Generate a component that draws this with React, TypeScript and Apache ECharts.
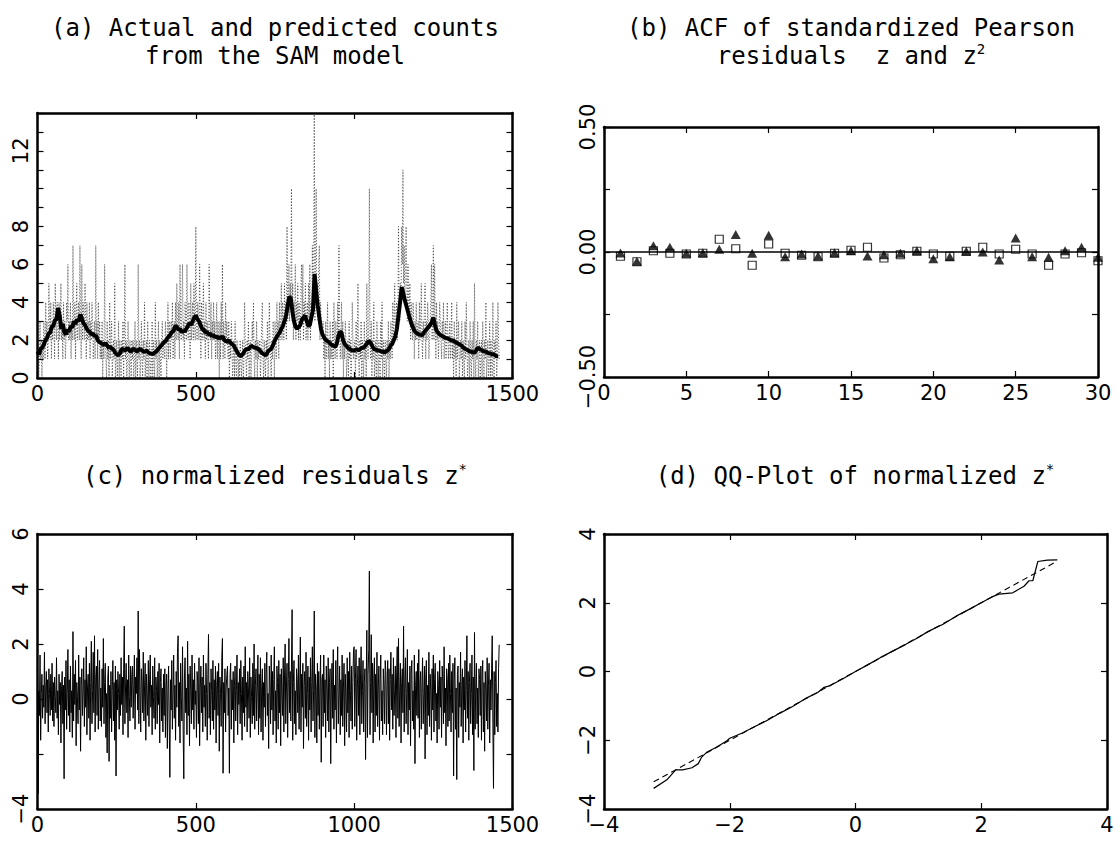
import React, { useEffect, useRef } from "react";
import * as echarts from "echarts";

// ---------- (a) counts and predicted counts ----------
const countStep = 2; // days between listed count values
const counts = [
  1, 2, 0, 1, 3, 1, 2, 0, 2, 1, 3, 2, 1, 4, 2, 3, 1, 2, 5, 3, 2, 4, 1, 3, 2, 4, 3, 1, 5, 3, 2, 4, 3, 1, 4, 2, 3, 5, 2, 3, 1, 4, 2, 3, 1, 2, 4, 3, 6, 2,
  3, 2, 4, 1, 3, 2, 7, 3, 2, 4, 1, 3, 5, 2, 3, 4, 2, 7, 3, 1, 6, 2, 4, 3, 2, 5, 3, 1, 4, 2, 3, 2, 4, 1, 3, 2, 4, 3, 1, 2, 3, 1, 7, 2, 3, 1, 4, 2, 3, 1,
  2, 1, 3, 0, 2, 1, 6, 2, 1, 0, 3, 1, 2, 0, 4, 1, 2, 3, 0, 1, 2, 1, 5, 0, 1, 2, 0, 1, 3, 0, 2, 1, 0, 2, 1, 3, 0, 2, 6, 1, 2, 0, 1, 3, 1, 0, 2, 1, 0, 2,
  1, 2, 0, 1, 3, 0, 2, 1, 0, 6, 1, 2, 0, 1, 3, 1, 0, 2, 1, 4, 0, 1, 2, 0, 3, 1, 0, 2, 1, 0, 1, 3, 0, 2, 1, 0, 4, 1, 2, 0, 1, 3, 0, 2, 1, 0, 2, 3, 1, 2,
  2, 1, 3, 2, 0, 2, 4, 1, 3, 2, 1, 3, 2, 4, 1, 2, 3, 1, 4, 2, 5, 3, 2, 4, 1, 6, 3, 2, 4, 6, 2, 3, 1, 4, 3, 2, 6, 3, 2, 4, 3, 1, 5, 2, 3, 4, 2, 5, 3, 2,
  8, 3, 2, 4, 3, 2, 6, 3, 1, 4, 2, 3, 5, 2, 3, 1, 4, 2, 3, 2, 1, 6, 3, 2, 4, 1, 3, 2, 4, 2, 3, 1, 2, 4, 1, 3, 2, 0, 3, 1, 4, 2, 6, 1, 3, 2, 1, 4, 2, 3,
  2, 1, 3, 0, 2, 1, 3, 2, 0, 1, 2, 0, 3, 1, 0, 2, 1, 0, 1, 0, 2, 1, 0, 1, 2, 0, 1, 4, 2, 1, 0, 2, 1, 3, 0, 1, 2, 0, 1, 3, 2, 4, 1, 0, 2, 1, 3, 0, 2, 1,
  1, 2, 0, 1, 3, 4, 1, 0, 2, 1, 0, 2, 1, 3, 0, 1, 4, 2, 1, 0, 2, 1, 3, 2, 0, 3, 2, 1, 4, 2, 3, 1, 4, 2, 3, 5, 2, 4, 3, 2, 5, 3, 4, 2, 8, 3, 4, 6, 3, 5,
  4, 10, 3, 5, 2, 4, 3, 6, 2, 4, 3, 5, 2, 4, 3, 2, 5, 6, 3, 6, 2, 4, 3, 5, 2, 3, 4, 2, 5, 3, 6, 2, 4, 3, 7, 4, 5, 14, 3, 6, 10, 4, 5, 3, 6, 7, 2, 4, 3, 2,
  2, 3, 1, 2, 0, 3, 1, 2, 4, 1, 2, 0, 3, 1, 2, 1, 3, 0, 4, 2, 1, 3, 2, 1, 4, 2, 7, 3, 1, 2, 4, 1, 3, 0, 2, 1, 3, 2, 0, 1, 2, 0, 3, 1, 2, 0, 1, 4, 2, 1,
  1, 2, 0, 3, 1, 2, 5, 1, 0, 2, 1, 3, 0, 2, 1, 0, 3, 1, 2, 0, 5, 2, 1, 3, 10, 2, 1, 3, 0, 2, 1, 4, 0, 1, 2, 0, 3, 1, 0, 2, 1, 0, 3, 1, 4, 0, 2, 1, 0, 2,
  1, 0, 2, 1, 3, 0, 2, 1, 3, 2, 1, 4, 2, 3, 5, 2, 3, 4, 2, 3, 8, 4, 3, 5, 4, 8, 6, 11, 5, 7, 4, 6, 8, 5, 3, 6, 4, 3, 5, 2, 4, 3, 2, 4, 3, 1, 3, 2, 4, 2,
  2, 3, 1, 4, 2, 3, 5, 2, 1, 3, 2, 4, 5, 1, 3, 2, 4, 3, 1, 2, 3, 4, 6, 2, 3, 7, 2, 6, 3, 1, 4, 2, 3, 1, 2, 4, 3, 2, 1, 3, 2, 4, 1, 2, 3, 1, 2, 4, 2, 1,
  2, 3, 1, 2, 4, 1, 2, 0, 3, 1, 2, 0, 4, 1, 2, 3, 0, 1, 2, 1, 3, 0, 2, 1, 0, 3, 1, 4, 2, 0, 1, 2, 0, 3, 1, 0, 2, 1, 3, 0, 5, 1, 0, 2, 1, 3, 0, 1, 2, 0,
  1, 2, 0, 3, 1, 0, 2, 1, 4, 0, 1, 2, 0, 1, 3, 0, 2, 1, 0, 4, 1, 0, 2, 1, 3, 0, 1, 4, 2, 1,
];
const predStep = 5;
const predicted = [
  1.4, 1.25, 1.55, 1.6, 1.75, 2.0, 2.1, 2.35, 2.4, 2.7,
  2.75, 3.05, 3.1, 3.7, 3.3, 2.6, 2.85, 2.4, 2.3, 2.55,
  2.45, 2.75, 2.65, 3.0, 2.85, 3.1, 3.0, 3.35, 3.15, 2.9,
  2.8, 2.6, 2.5, 2.45, 2.3, 2.35, 2.2, 2.25, 2.0, 1.9,
  1.85, 1.8, 1.75, 1.85, 1.7, 1.6, 1.65, 1.55, 1.5, 1.35,
  1.25, 1.2, 1.3, 1.5, 1.55, 1.45, 1.5, 1.6, 1.45, 1.4,
  1.5, 1.55, 1.45, 1.4, 1.5, 1.55, 1.45, 1.4, 1.4, 1.45,
  1.35, 1.3, 1.3, 1.25, 1.35, 1.4, 1.5, 1.6, 1.7, 1.8,
  1.9, 1.95, 2.1, 2.2, 2.3, 2.45, 2.5, 2.75, 2.7, 2.55,
  2.6, 2.4, 2.5, 2.45, 2.6, 2.75, 2.9, 2.8, 3.0, 3.2,
  3.3, 3.1, 3.0, 2.8, 2.6, 2.55, 2.4, 2.45, 2.3, 2.35,
  2.2, 2.3, 2.15, 2.2, 2.1, 2.15, 2.1, 2.2, 2.0, 1.95,
  1.9, 2.0, 1.85, 1.8, 1.7, 1.55, 1.4, 1.25, 1.15, 1.2,
  1.3, 1.45, 1.55, 1.5, 1.6, 1.7, 1.65, 1.6, 1.6, 1.55,
  1.5, 1.4, 1.3, 1.25, 1.2, 1.3, 1.45, 1.5, 1.6, 1.8,
  2.0, 2.15, 2.3, 2.4, 2.6, 2.75, 3.0, 3.3, 3.8, 4.3,
  4.2, 3.5, 3.0, 2.7, 2.6, 2.7, 2.8, 3.1, 3.2, 3.3,
  3.0, 2.75, 2.8, 3.2, 3.6, 5.5, 4.6, 3.8, 3.2, 2.6,
  2.3, 2.15, 2.0, 1.95, 1.9, 1.8, 1.75, 1.7, 1.65, 1.8,
  2.2, 2.45, 2.4, 2.0, 1.8, 1.7, 1.6, 1.55, 1.5, 1.45,
  1.45, 1.5, 1.5, 1.45, 1.55, 1.6, 1.6, 1.7, 1.8, 1.95,
  1.9, 1.75, 1.6, 1.5, 1.5, 1.45, 1.45, 1.4, 1.4, 1.35,
  1.4, 1.45, 1.55, 1.7, 1.8, 2.0, 2.2, 2.6, 3.3, 4.0,
  4.8, 4.5, 4.1, 3.8, 3.5, 3.2, 2.9, 2.7, 2.5, 2.4,
  2.35, 2.3, 2.3, 2.25, 2.4, 2.5, 2.6, 2.7, 2.8, 2.95,
  3.2, 2.8, 2.5, 2.4, 2.3, 2.25, 2.2, 2.15, 2.1, 2.1,
  2.05, 2.0, 2.0, 1.95, 1.9, 1.85, 1.8, 1.75, 1.7, 1.6,
  1.55, 1.5, 1.45, 1.4, 1.4, 1.35, 1.35, 1.45, 1.6, 1.55,
  1.5, 1.45, 1.4, 1.4, 1.35, 1.3, 1.3, 1.25, 1.25, 1.2,
  1.15, 1.15,
];
const aYLabelValues = [0, 2, 4, 6, 8, 12];

// ---------- (b) ACF ----------
const lags = [
  1, 2, 3, 4, 5, 6, 7, 8, 9, 10, 11, 12, 13, 14, 15,
  16, 17, 18, 19, 20, 21, 22, 23, 24, 25, 26, 27, 28, 29, 30,
];
const acfZ = [
  -0.017, -0.039, 0.005, -0.005, -0.008, -0.005, 0.051, 0.013, -0.053, 0.032,
  -0.005, -0.013, -0.019, -0.005, 0.007, 0.019, -0.024, -0.011, 0.003, -0.008,
  -0.017, 0.003, 0.019, -0.008, 0.011, -0.008, -0.053, -0.008, -0.003, -0.035,
];
const acfZ2 = [
  -0.004, -0.037, 0.025, 0.019, -0.005, -0.003, 0.011, 0.07, -0.005, 0.067,
  -0.019, -0.008, -0.016, -0.003, 0.005, -0.016, -0.011, -0.005, 0.005, -0.027,
  -0.019, 0.003, 0.0, -0.032, 0.056, -0.019, -0.021, 0.005, 0.019, -0.021,
];
const bYLabelValues = [-0.5, 0, 0.5];

// ---------- (c) normalized residuals ----------
const resStep = 2;
const residuals = [
  1.1, -3.45, 0.3, -0.6, 1.6, -1.5, 0.2, 0.9, -0.7, 0.5, -0.3, 1.7, -0.9, 0.4, 1.0, -0.5, 0.7, -1.2, 1.1, 0.2, -0.6, 0.9, -0.4, 1.3, -0.8, 0.6, -1.0, 0.8, 0.1, -0.5, 1.5, -0.7, 0.3, -1.3, 0.9, -0.2, 0.6, -1.6, 0.4, 1.0, -0.9, 0.5, -2.9, 0.8, -0.4, 1.4, -1.1, 0.2, 1.8, -0.6,
  0.7, -1.2, 1.2, -0.5, 0.3, -1.4, 2.45, -0.8, 0.9, -0.2, 1.4, -1.7, 0.6, 0.1, -0.9, 1.6, -0.4, 0.8, -1.9, 0.5, 1.1, -0.6, 0.2, 1.5, -1.0, 0.7, -0.3, 1.9, -1.3, 0.4, 0.9, -0.7, 1.3, -1.5, 0.6, 2.1, -0.9, 0.3, 1.7, -0.5, 2.3, -1.2, 0.8, 1.2, -0.6, 1.8, -1.1, 0.5, 1.4, -0.8,
  0.4, -1.0, 1.1, -0.3, 2.2, -0.9, 0.6, 1.3, -1.4, 0.2, -1.96, 0.8, 1.2, -2.27, 0.5, -0.7, 1.0, -1.2, 0.3, 1.4, -0.8, 0.6, -1.5, 1.2, -2.8, 0.7, -0.4, 1.0, 0.2, -1.1, 0.9, -0.6, 1.5, -0.2, 0.8, -1.3, 1.1, 2.65, -0.9, 0.4, 1.3, -0.5, 0.7, -1.4, 1.6, 0.1, -0.8, 1.2, -0.3, 0.9,
  1.2, -0.7, 0.5, 1.6, -1.1, 0.8, 0.2, 1.5, -0.4, 3.2, -0.9, 1.8, 0.3, -1.2, 1.1, 0.6, -0.5, 1.7, -0.8, 0.4, 1.3, -1.5, 0.9, 0.2, -0.6, 1.4, -1.0, 0.7, 1.6, -0.3, 0.5, -1.3, 1.2, 0.1, -0.7, 1.5, -1.1, 0.8, 0.3, -0.9, 1.0, -0.2, 1.3, -1.6, 0.6, 1.1, -0.8, 0.4, -1.2, 0.9,
  -0.6, 1.1, -1.4, 0.5, 0.9, -1.8, 0.3, 1.2, -0.9, -2.85, 0.7, -0.4, 1.4, -1.1, 0.2, 1.6, -0.7, 0.5, -1.5, 1.0, -0.3, 1.7, 2.3, -1.0, 0.6, -1.6, 1.3, 0.1, -0.8, 1.9, -1.2, -2.9, 0.8, 1.5, -0.5, 0.4, -1.3, 2.1, -0.6, 0.9, -1.7, 1.2, 0.3, -0.9, 1.6, -0.4, 0.7, -1.1, 1.3, -0.2,
  0.3, -1.4, 1.0, 0.6, -0.9, 1.5, -1.7, 0.4, 1.2, -0.5, 0.8, -1.2, 1.6, -0.3, 0.5, -1.0, 1.3, 0.2, -1.5, 0.9, 2.35, -0.7, 0.6, -1.3, 1.1, 0.3, -0.8, 1.4, -1.1, 0.7, -0.4, 1.2, -1.6, 0.5, 1.0, -0.6, 1.3, -1.9, 0.8, 0.2, -1.0, 1.5, 2.2, -2.7, 0.6, -0.5, 1.1, -1.2, 0.4, 0.9,
  1.2, -0.6, 0.4, -2.7, 0.9, 1.3, -1.1, 0.7, -0.4, 1.0, -1.6, 0.5, 1.2, -0.8, 0.3, 1.6, -1.3, 0.6, -0.2, 1.1, -0.9, 1.4, 0.2, -1.5, 0.8, -0.5, 1.2, -1.0, 1.9, -0.3, 0.6, -1.2, 1.0, 0.4, -0.7, 1.5, -1.4, 0.8, 0.1, -0.9, 1.3, -0.6, 2.0, -1.1, 0.5, 1.1, -0.8, 0.3, 1.6, -1.3,
  0.9, -0.7, 1.5, -1.2, 0.4, 1.1, -1.5, 0.6, -0.3, 1.3, -1.0, 0.8, 1.7, -0.6, 0.2, -1.8, 1.2, 0.5, -0.9, 1.6, -0.4, 1.0, -1.3, 0.7, 1.9, -0.8, 0.3, -1.6, 1.2, 0.6, -1.1, 1.4, -0.5, 0.9, -1.7, 1.1, 0.2, -0.6, 1.5, -1.2, 0.8, 2.0, -0.9, 0.4, 1.3, -1.4, 0.7, 2.2, -0.5, 1.0,
  -0.8, 1.2, 3.25, -1.5, 0.6, 1.4, -0.9, 0.3, -1.3, 1.1, 0.7, -0.5, 1.6, -1.1, 0.4, 2.25, -1.2, 0.9, -0.3, 1.3, -1.8, 0.5, 1.0, -0.7, 1.7, -1.0, 0.2, 1.2, -1.5, 0.8, -0.4, 1.5, -1.2, 0.6, 1.9, -0.8, 0.3, 3.2, -1.4, 0.9, 0.4, -1.6, 1.3, -0.6, 1.0, -1.1, 0.5, 1.6, -2.3, 0.7,
  0.9, -1.0, 1.6, -0.5, 0.7, -1.4, 1.2, 0.3, -0.8, 1.5, -1.2, 0.6, 1.1, -2.35, 0.4, 1.3, -0.7, 1.8, -1.1, 0.5, -0.4, 1.4, -1.6, 0.8, 1.9, -0.9, 0.2, 1.2, -1.3, 0.7, -0.6, 1.6, -1.0, 0.4, 1.3, -1.7, 0.9, 0.1, -1.2, 1.5, -0.5, 1.0, -1.4, 1.7, 0.3, -0.8, 1.2, -1.1, 0.6, 1.8,
  1.9, -1.0, 0.7, 1.8, -1.5, 0.4, 1.2, -0.6, 1.5, -1.3, 0.8, 1.9, -0.9, 0.3, 1.4, -1.2, 0.6, 1.1, -2.2, 0.5, 2.5, -1.4, 0.9, 1.8, 4.65, -1.3, 0.6, 2.34, -0.5, 1.3, -1.6, 0.8, 1.5, -1.2, 0.9, -0.6, 1.7, -1.0, 0.4, 1.2, -1.5, 0.7, 1.6, -0.8, 0.3, -1.3, 1.1, 0.5, -0.9, 1.4,
  1.0, -1.3, 0.5, 1.4, -0.9, 1.1, -1.5, 0.7, 1.7, -0.4, 0.9, -1.1, 1.5, -0.6, 0.3, 1.2, -1.4, 0.8, 1.9, -0.7, 2.2, -1.0, 0.4, 1.3, -1.6, 0.6, 1.1, -0.5, 2.65, -1.2, 0.7, 1.5, -0.9, 0.2, 1.8, -1.3, 0.6, -0.4, 1.2, -1.7, 0.9, 1.4, -0.8, 0.3, -1.1, 1.6, -2.35, 0.5, 1.0, -0.6,
  1.3, -0.7, 1.8, -1.4, 0.6, 1.0, -1.1, 0.4, 1.5, -0.9, 0.2, 1.2, -2.18, 0.8, 1.4, -1.3, 0.5, -0.6, 1.7, -1.0, 0.9, 0.3, -1.5, 1.1, -0.4, 1.6, -1.2, 0.7, 1.3, -0.8, 0.2, -1.6, 1.0, 0.5, -1.1, 1.4, -0.3, 0.8, -1.4, 1.2, 0.6, -0.9, 1.9, -0.5, 0.4, -1.7, 1.1, 0.7, -1.0, 1.3,
  -0.8, 1.6, 0.2, -1.2, 1.0, -0.5, 1.3, -2.8, 0.7, 1.5, -1.1, 0.4, -2.93, 0.9, 1.2, -1.4, 0.6, -0.3, 1.7, -1.0, 0.5, 1.1, -1.6, 0.8, -0.4, 1.4, -1.2, 0.3, 2.3, -0.7, 1.0, -1.5, 0.6, 1.3, -0.9, 0.2, 1.6, -1.3, 0.8, -2.6, 2.42, -1.1, 0.5, 1.3, -0.9, 0.4, -1.4, 1.1, 0.7, -0.6,
  1.2, -1.5, 0.8, 1.4, -1.2, 0.6, -1.9, 1.0, 0.3, -0.8, 1.5, -1.1, 0.5, 1.3, -1.6, 0.7, -0.4, 1.1, 2.3, -0.9, -3.25, 1.0, -1.3, 0.6, 1.4, -1.0, 0.2, -1.2, 1.1, 1.97,
];
const cYLabelValues = [-4, 0, 2, 4, 6];

// ---------- (d) QQ plot ----------
const qqTheoretical = [
  -3.21, -3.0, -2.86, -2.75, -2.6, -2.5, -2.45, -2.36, -2.22, -2.05, -2.0,
  -1.8, -1.6, -1.4, -1.2, -1.0, -0.8, -0.6, -0.5, -0.4, -0.2, 0, 0.2, 0.4,
  0.6, 0.8, 1.0, 1.15, 1.4, 1.6, 1.8, 2.0, 2.17, 2.28, 2.5, 2.68, 2.76,
  2.82, 2.9, 3.05, 3.21,
];
const qqSample = [
  -3.4, -3.15, -2.86, -2.86, -2.8, -2.68, -2.5, -2.34, -2.21, -2.02, -1.94,
  -1.79, -1.6, -1.42, -1.21, -1.02, -0.79, -0.61, -0.46, -0.41, -0.21, 0.0,
  0.2, 0.41, 0.6, 0.79, 0.99, 1.16, 1.38, 1.61, 1.8, 2.0, 2.17, 2.25, 2.29,
  2.48, 2.64, 2.64, 3.2, 3.24, 3.25,
];
const qqRefLine = [-3.21, 3.21];

// ---------- titles ----------
const titleA = "(a) Actual and predicted counts\nfrom the SAM model";
const titleB = "(b) ACF of standardized Pearson\nresiduals  z and z{sup|2}";
const titleC = "(c) normalized residuals z{sup|*}";
const titleD = "(d) QQ-Plot of normalized z{sup|*}";

const TICK_FONT = "DejaVu Sans";
const TITLE_FONT = "DejaVu Sans Mono";
const minusSign = (s: string) => s.replace("-", "\u2212");

function xAxisPair(grid: number, min: number, max: number, interval: number) {
  const base = {
    type: "value",
    gridIndex: grid,
    min,
    max,
    interval,
    splitLine: { show: false },
    axisLine: { show: true, onZero: false, lineStyle: { color: "#000", width: 2.5 } },
    axisTick: { show: true, inside: true, length: 6, lineStyle: { color: "#000", width: 1.2 } },
  };
  return [
    {
      ...base,
      position: "bottom",
      axisLabel: {
        show: true,
        margin: 5,
        color: "#000",
        fontFamily: TICK_FONT,
        fontSize: 21,
        showMinLabel: true,
        showMaxLabel: true,
        formatter: (v: number) => minusSign(String(v)),
      },
    },
    { ...base, position: "top", axisLabel: { show: false } },
  ];
}

function yAxisPair(grid: number, min: number, max: number, interval: number, fmt: (v: number) => string) {
  const base = {
    type: "value",
    gridIndex: grid,
    min,
    max,
    interval,
    splitLine: { show: false },
    axisLine: { show: true, onZero: false, lineStyle: { color: "#000", width: 2.5 } },
    axisTick: { show: true, inside: true, length: 6, lineStyle: { color: "#000", width: 1.2 } },
  };
  return [
    {
      ...base,
      position: "left",
      axisLabel: {
        show: true,
        rotate: 90,
        margin: 6,
        color: "#000",
        fontFamily: TICK_FONT,
        fontSize: 21,
        showMinLabel: true,
        showMaxLabel: true,
        formatter: (v: number) => minusSign(fmt(v)),
      },
    },
    { ...base, position: "right", axisLabel: { show: false } },
  ];
}

const near = (v: number, list: number[]) => list.some((x) => Math.abs(x - v) < 1e-9);

export default function App() {
  const ref = useRef<HTMLDivElement>(null);

  useEffect(() => {
    if (!ref.current) return;
    const chart = echarts.init(ref.current, undefined, { renderer: "svg" });

    const supRich = {
      sup: { fontSize: 14, fontFamily: TITLE_FONT, verticalAlign: "top", lineHeight: 14, fill: "#000", color: "#000" },
    };
    const titleStyle = (text: string) => ({
      text,
      fontFamily: TITLE_FONT,
      fontSize: 24,
      lineHeight: 28,
      fill: "#000",
      align: "center",
      verticalAlign: "middle",
      textAlign: "center",
      textVerticalAlign: "middle",
      rich: supRich,
    });

    const option: any = {
      animation: false,
      backgroundColor: "#fff",
      textStyle: { fontFamily: TICK_FONT },
      grid: [
        { left: 37.5, top: 113, width: 475, height: 265 },
        { left: 604, top: 127, width: 494, height: 250 },
        { left: 37.5, top: 534, width: 475, height: 275 },
        { left: 604, top: 534, width: 503, height: 275 },
      ],
      xAxis: [
        ...xAxisPair(0, 0, 1500, 500),
        ...xAxisPair(1, 0, 30, 5),
        ...xAxisPair(2, 0, 1500, 500),
        ...xAxisPair(3, -4, 4, 2),
      ],
      yAxis: [
        ...yAxisPair(0, 0, 14, 1, (v) => (near(v, aYLabelValues) ? String(v) : "")),
        ...yAxisPair(1, -0.5, 0.5, 0.25, (v) => (near(v, bYLabelValues) ? v.toFixed(2) : "")),
        ...yAxisPair(2, -4, 6, 2, (v) => (near(v, cYLabelValues) ? String(v) : "")),
        ...yAxisPair(3, -4, 4, 2, (v) => String(v)),
      ],
      graphic: [
        { type: "text", x: 275, y: 42, style: titleStyle(titleA) },
        { type: "text", x: 851, y: 42, style: titleStyle(titleB) },
        { type: "text", x: 275, y: 476, style: titleStyle(titleC) },
        { type: "text", x: 855, y: 476, style: titleStyle(titleD) },
      ],
      series: [
        {
          name: "actual counts",
          type: "line",
          xAxisIndex: 0,
          yAxisIndex: 0,
          data: counts.map((v, i) => [i * countStep, v]),
          symbol: "none",
          lineStyle: { color: "#222", width: 0.7, type: [1.2, 1.8] },
          z: 2,
        },
        {
          name: "predicted counts",
          type: "line",
          xAxisIndex: 0,
          yAxisIndex: 0,
          data: predicted.map((v, i) => [i * predStep, v]),
          symbol: "none",
          lineStyle: { color: "#000", width: 4 },
          z: 3,
        },
        {
          name: "zero",
          type: "line",
          xAxisIndex: 2,
          yAxisIndex: 2,
          data: [
            [0, 0],
            [30, 0],
          ],
          symbol: "none",
          lineStyle: { color: "#000", width: 1.5 },
        },
        {
          name: "z",
          type: "scatter",
          xAxisIndex: 2,
          yAxisIndex: 2,
          data: lags.map((l, i) => [l, acfZ[i]]),
          symbol: "rect",
          symbolSize: 8,
          itemStyle: { color: "rgba(0,0,0,0)", borderColor: "#000", borderWidth: 1.2 },
        },
        {
          name: "z2",
          type: "scatter",
          xAxisIndex: 2,
          yAxisIndex: 2,
          data: lags.map((l, i) => [l, acfZ2[i]]),
          symbol: "triangle",
          symbolSize: [10, 9],
          itemStyle: { color: "#000" },
        },
        {
          name: "residuals",
          type: "line",
          xAxisIndex: 4,
          yAxisIndex: 4,
          data: residuals.map((v, i) => [i * resStep, v]),
          symbol: "none",
          lineStyle: { color: "#000", width: 1 },
        },
        {
          name: "qq",
          type: "line",
          xAxisIndex: 6,
          yAxisIndex: 6,
          data: qqTheoretical.map((x, i) => [x, qqSample[i]]),
          symbol: "none",
          lineStyle: { color: "#000", width: 1.2 },
        },
        {
          name: "reference",
          type: "line",
          xAxisIndex: 6,
          yAxisIndex: 6,
          data: qqRefLine.map((x) => [x, x]),
          symbol: "none",
          lineStyle: { color: "#000", width: 1.1, type: [6, 4] },
        },
      ],
    };

    chart.setOption(option);
    return () => chart.dispose();
  }, []);

  return (
    <div
      ref={ref}
      style={{ position: "absolute", left: 0, top: 0, width: 1119, height: 843, background: "#fff" }}
    />
  );
}
